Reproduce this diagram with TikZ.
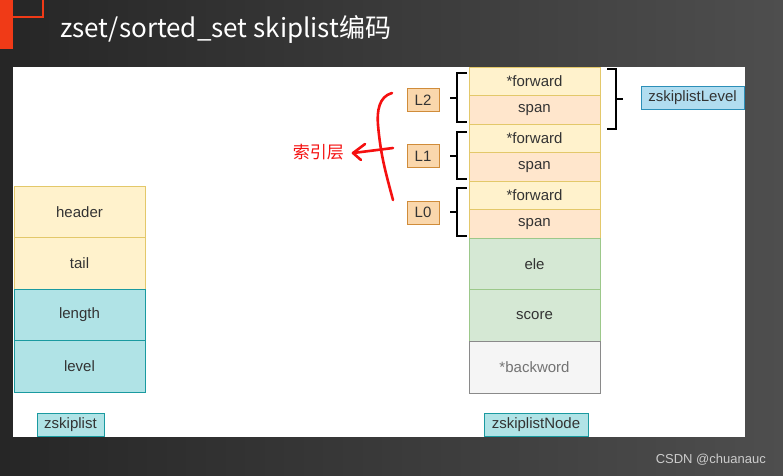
\documentclass[tikz,border=0pt]{standalone}
\usepackage{fontspec}
\setmainfont{Liberation Sans}
\newfontfamily\cjk{Noto Sans CJK SC}
\definecolor{bgA}{HTML}{262626}
\definecolor{bgB}{HTML}{4E4E4E}
\definecolor{ylwF}{HTML}{FFF2CC}
\definecolor{ylwD}{HTML}{E3C86A}
\definecolor{orgF}{HTML}{FFE6CC}
\definecolor{cyF}{HTML}{B0E3E6}
\definecolor{cyD}{HTML}{1A9AA0}
\definecolor{grF}{HTML}{D5E8D4}
\definecolor{grD}{HTML}{9CC88A}
\definecolor{gyF}{HTML}{F5F5F5}
\definecolor{gyD}{HTML}{8A8A8A}
\definecolor{lF}{HTML}{FAD7AC}
\definecolor{lD}{HTML}{D08C3A}
\definecolor{blF}{HTML}{B1DDF0}
\definecolor{blD}{HTML}{2C8FB8}
\definecolor{txt}{HTML}{333333}
\definecolor{pen}{HTML}{F51010}
\definecolor{logored}{HTML}{F03A17}
\begin{document}
\begin{tikzpicture}[x=1pt,y=-1pt,
  cell/.style={draw, line width=1pt, minimum width=131pt, inner sep=0pt,
    font=\fontsize{15}{18}\selectfont, text=txt},
  yc/.style={cell, fill=ylwF, draw=ylwD},
  oc/.style={cell, fill=orgF, draw=ylwD},
  cc/.style={cell, fill=cyF, draw=cyD},
  gc/.style={cell, fill=grF, draw=grD},
  wc/.style={cell, fill=gyF, draw=gyD, text=gray!90!black},
  tag/.style={draw, line width=1pt, inner sep=0pt, minimum height=23pt,
    font=\fontsize{15}{18}\selectfont, text=txt},
  lvl/.style={tag, fill=lF, draw=lD, minimum width=32pt},
  brk/.style={line width=2pt, black},
  redpen/.style={line width=2.6pt, pen, line cap=round, line join=round}
]
\useasboundingbox (0,0) rectangle (783,475);
% background
\shade[left color=bgA, right color=bgB] (0,0) rectangle (783,475);
\fill[logored] (0,0) rectangle (13,49);
\draw[logored, line width=1.5pt] (13,17) -- (43,17) -- (43,0);
% title
\node[anchor=base west, inner sep=0pt, text=white, font=\cjk\fontsize{26}{30}\selectfont] (title) at (60,37) {zset/sorted\_set skiplist编码};
% white panel
\fill[white] (13,67) rectangle (745,437);
% left struct
\node[yc, minimum height=51.5pt] (header) at (79.5,211.75) {header};
\node[yc, minimum height=51.5pt] (tail) at (79.5,263.25) {tail};
\node[cc, minimum height=51.5pt] (length) at (79.5,314.75) {length};
\node[cc, minimum height=51.5pt] (level) at (79.5,366.25) {level};
\node[tag, fill=cyF, draw=cyD, minimum width=67pt] (zsl) at (70.5,424.5) {zskiplist};
% right struct
\node[yc, minimum height=28.5pt] (f2) at (534.5,81.25) {*forward};
\node[oc, minimum height=28.5pt] (s2) at (534.5,109.75) {span};
\node[yc, minimum height=28.5pt] (f1) at (534.5,138.25) {*forward};
\node[oc, minimum height=28.5pt] (s1) at (534.5,166.75) {span};
\node[yc, minimum height=28.5pt] (f0) at (534.5,195.25) {*forward};
\node[oc, minimum height=28.5pt] (s0) at (534.5,223.75) {span};
\node[gc, minimum height=51.67pt] (ele) at (534.5,263.83) {ele};
\node[gc, minimum height=51.67pt] (score) at (534.5,315.5) {score};
\node[wc, minimum height=51.67pt] (back) at (534.5,367.17) {*backword};
\node[tag, fill=cyF, draw=cyD, minimum width=104pt] (zsn) at (536,424.5) {zskiplistNode};
\node[tag, fill=blF, draw=blD, minimum width=103pt] (zslv) at (692.5,97.5) {zskiplistLevel};
% level tags
\node[lvl] (L2) at (423,100) {L2};
\node[lvl] (L1) at (423,156) {L1};
\node[lvl] (L0) at (423,212.5) {L0};
% brackets
\draw[brk] (467,73) -- (457,73) -- (457,122) -- (467,122);
\draw[brk] (450,97.5) -- (457,97.5);
\draw[brk] (467,132) -- (457,132) -- (457,179) -- (467,179);
\draw[brk] (450,155.5) -- (457,155.5);
\draw[brk] (467,188) -- (457,188) -- (457,236) -- (467,236);
\draw[brk] (450,212) -- (457,212);
\draw[brk] (607,69) -- (616,69) -- (616,129) -- (607,129);
\draw[brk] (616,99) -- (623,99);
% red annotation
\node[anchor=east, inner sep=0pt, text=pen, font=\cjk\fontsize{17}{20}\selectfont] (idx) at (344,152.5) {索引层};
\draw[redpen] (392,93) to[out=195,in=95] (378,125) to[out=-85,in=105] (393,200);
\coordinate (rs) at (393,148);
\draw[redpen] (rs) -- (353,153);
\draw[redpen] (365,144) -- (353,153) -- (361,160);
% watermark
\node[anchor=base east, inner sep=0pt, text=white!80!black, font=\fontsize{13}{15}\selectfont] (wm) at (766,463) {CSDN @chuanauc};
\end{tikzpicture}
\end{document}
